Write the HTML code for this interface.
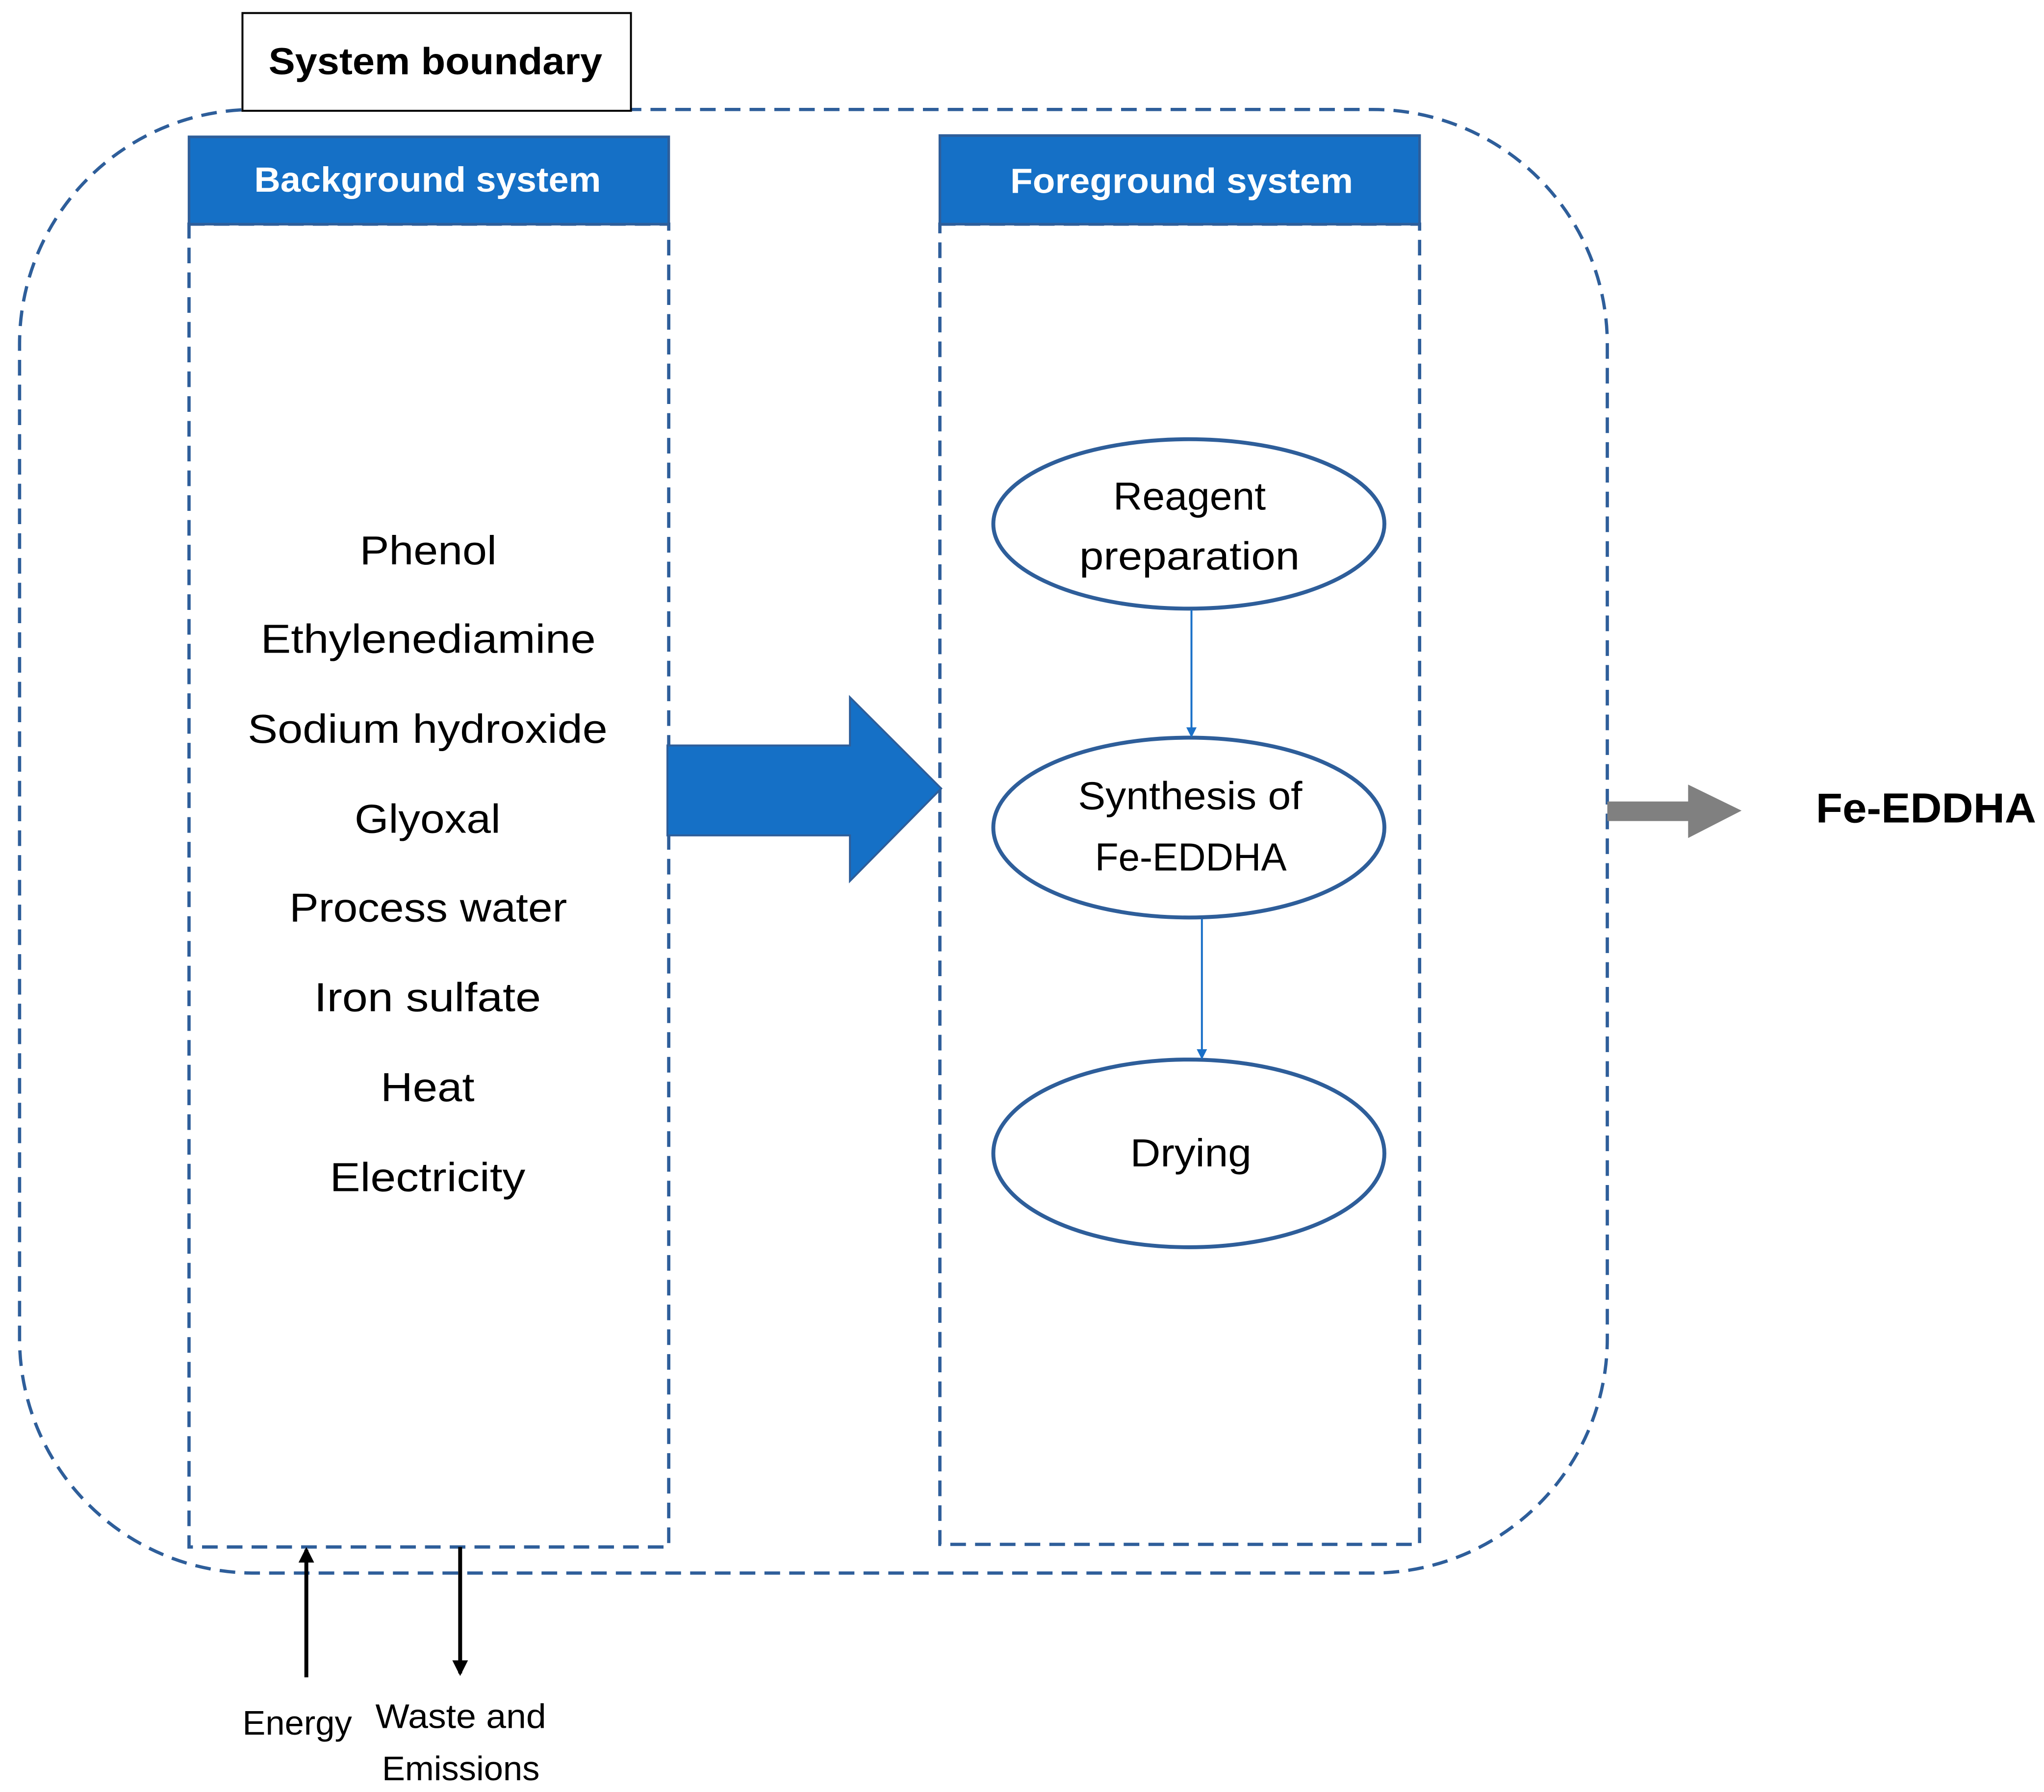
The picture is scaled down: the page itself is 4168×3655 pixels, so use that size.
<!DOCTYPE html>
<html><head><meta charset="utf-8"><style>
html,body{margin:0;padding:0;background:#fff;}
svg{display:block;}
text{font-family:"Liberation Sans",sans-serif;}
</style></head><body>
<svg width="4168" height="3655" viewBox="0 0 1568 1375" xmlns="http://www.w3.org/2000/svg">
<defs>
<marker id="ab" markerWidth="8" markerHeight="8" refX="7" refY="4" orient="auto" markerUnits="userSpaceOnUse"><path d="M0,0 L8,4 L0,8 z" fill="#1a70c8"/></marker>
<marker id="ak" markerWidth="12" markerHeight="12" refX="10" refY="6" orient="auto" markerUnits="userSpaceOnUse"><path d="M0,0 L12,6 L0,12 z" fill="#000"/></marker>
</defs>
<rect x="15" y="84" width="1218" height="1123" rx="180" ry="180" fill="none" stroke="#2e5e9a" stroke-width="2.5" stroke-dasharray="12,7"/>
<rect x="186" y="10" width="298" height="75" fill="#fff" stroke="#000" stroke-width="1.5"/>
<text x="206" y="57" font-size="29" font-weight="bold" textLength="256" lengthAdjust="spacingAndGlyphs">System boundary</text>

<rect x="145" y="172" width="368" height="1015" fill="none" stroke="#2e5e9a" stroke-width="2.5" stroke-dasharray="12,7"/>
<rect x="145" y="105" width="368" height="67" fill="#1570c6" stroke="#2e5e9a" stroke-width="2"/>
<text x="195" y="147" font-size="27" font-weight="bold" fill="#fff" textLength="266" lengthAdjust="spacingAndGlyphs">Background system</text>

<rect x="721" y="172" width="368" height="1013" fill="none" stroke="#2e5e9a" stroke-width="2.5" stroke-dasharray="12,7"/>
<rect x="721" y="104" width="368" height="68" fill="#1570c6" stroke="#2e5e9a" stroke-width="2"/>
<text x="775" y="148" font-size="27" font-weight="bold" fill="#fff" textLength="263" lengthAdjust="spacingAndGlyphs">Foreground system</text>

<g font-size="31" fill="#000">
<text x="276" y="433" textLength="105" lengthAdjust="spacingAndGlyphs">Phenol</text>
<text x="200" y="501" textLength="257" lengthAdjust="spacingAndGlyphs">Ethylenediamine</text>
<text x="190" y="570" textLength="276" lengthAdjust="spacingAndGlyphs">Sodium hydroxide</text>
<text x="272" y="639" textLength="112" lengthAdjust="spacingAndGlyphs">Glyoxal</text>
<text x="222" y="707" textLength="213" lengthAdjust="spacingAndGlyphs">Process water</text>
<text x="241" y="776" textLength="174" lengthAdjust="spacingAndGlyphs">Iron sulfate</text>
<text x="292" y="845" textLength="72" lengthAdjust="spacingAndGlyphs">Heat</text>
<text x="253" y="914" textLength="150" lengthAdjust="spacingAndGlyphs">Electricity</text>
</g>

<path d="M512,572 L652,572 L652,535 L722,605 L652,676 L652,641 L512,641 Z" fill="#1570c6" stroke="#2e5e9a" stroke-width="1.5"/>

<ellipse cx="912" cy="402" rx="150" ry="65" fill="#fff" stroke="#2e5e9a" stroke-width="3"/>
<ellipse cx="912" cy="635" rx="150" ry="69" fill="#fff" stroke="#2e5e9a" stroke-width="3"/>
<ellipse cx="912" cy="885" rx="150" ry="72" fill="#fff" stroke="#2e5e9a" stroke-width="3"/>
<g font-size="30">
<text x="854" y="391" textLength="117" lengthAdjust="spacingAndGlyphs">Reagent</text>
<text x="828" y="437" textLength="169" lengthAdjust="spacingAndGlyphs">preparation</text>
<text x="827" y="621" textLength="172" lengthAdjust="spacingAndGlyphs">Synthesis of</text>
<text x="840" y="668" textLength="147" lengthAdjust="spacingAndGlyphs">Fe-EDDHA</text>
<text x="867" y="895" textLength="93" lengthAdjust="spacingAndGlyphs">Drying</text>
</g>
<line x1="914" y1="468" x2="914" y2="565" stroke="#1a70c8" stroke-width="1.5" marker-end="url(#ab)"/>
<line x1="922" y1="705" x2="922" y2="812" stroke="#1a70c8" stroke-width="1.5" marker-end="url(#ab)"/>

<path d="M1233,615 L1295,615 L1295,602 L1336,622 L1295,643 L1295,630 L1233,630 Z" fill="#808080"/>
<text x="1393" y="631" font-size="32" font-weight="bold" textLength="169" lengthAdjust="spacingAndGlyphs">Fe-EDDHA</text>

<line x1="235" y1="1287" x2="235" y2="1189" stroke="#000" stroke-width="3" marker-end="url(#ak)"/>
<line x1="353" y1="1187" x2="353" y2="1284" stroke="#000" stroke-width="3" marker-end="url(#ak)"/>
<g font-size="26">
<text x="186" y="1331" textLength="84" lengthAdjust="spacingAndGlyphs">Energy</text>
<text x="288" y="1326" textLength="131" lengthAdjust="spacingAndGlyphs">Waste and</text>
<text x="293" y="1366" textLength="121" lengthAdjust="spacingAndGlyphs">Emissions</text>
</g>
</svg>
</body></html>
